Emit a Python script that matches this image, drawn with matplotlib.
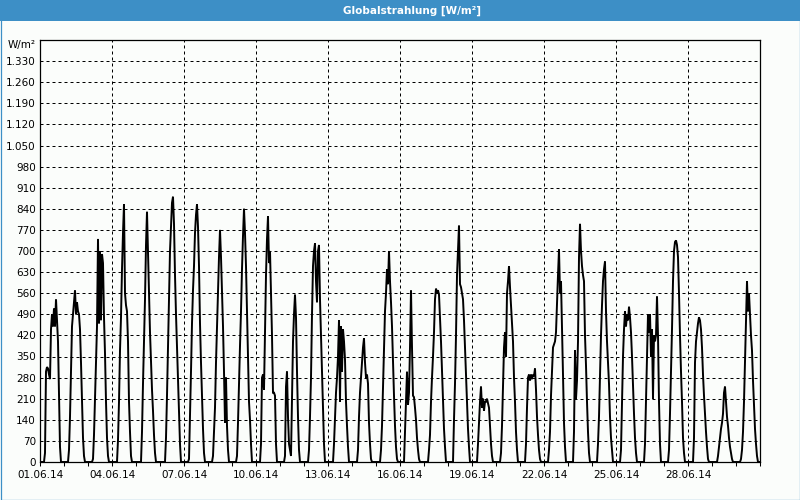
import numpy as np
import matplotlib
matplotlib.use("Agg")
import matplotlib.pyplot as plt
from matplotlib.patches import Rectangle
from matplotlib.ticker import FixedLocator, FuncFormatter, MultipleLocator

# hourly global radiation (W/m²) for hours 04..22, one row per day of June 2014
hours = list(range(4, 23))
radiation = [
    [0, 30, 300, 315, 310, 290, 275, 440, 490, 450, 510, 450, 540, 470, 400, 230, 50, 0, 0],
    [0, 40, 150, 300, 450, 490, 530, 570, 490, 530, 500, 490, 440, 330, 200, 80, 20, 0, 0],
    [0, 10, 90, 210, 330, 450, 740, 460, 700, 470, 690, 660, 480, 360, 200, 80, 20, 0, 0],
    [0, 0, 73, 200, 370, 480, 640, 760, 855, 560, 520, 500, 400, 200, 100, 20, 0, 0, 0],
    [0, 0, 100, 260, 400, 540, 720, 830, 700, 560, 430, 330, 240, 170, 90, 30, 0, 0, 0],
    [0, 0, 80, 220, 380, 540, 700, 780, 860, 880, 790, 620, 490, 380, 280, 160, 60, 0, 0],
    [0, 10, 150, 300, 460, 570, 650, 760, 820, 855, 780, 650, 460, 330, 220, 110, 30, 0, 0],
    [0, 20, 100, 180, 330, 450, 580, 680, 770, 680, 560, 450, 300, 130, 280, 120, 40, 0, 0],
    [0, 20, 130, 260, 385, 500, 640, 750, 840, 760, 650, 500, 350, 200, 140, 60, 0, 0, 0],
    [0, 60, 280, 290, 240, 420, 620, 740, 815, 660, 700, 560, 420, 230, 230, 220, 60, 0, 0],
    [0, 20, 250, 300, 150, 60, 40, 20, 200, 400, 490, 555, 480, 300, 150, 40, 0, 0, 0],
    [0, 40, 150, 280, 490, 650, 700, 725, 600, 530, 700, 720, 540, 420, 300, 170, 60, 0, 0],
    [0, 0, 60, 150, 230, 280, 350, 470, 200, 450, 300, 440, 400, 340, 200, 120, 50, 0, 0],
    [0, 0, 40, 150, 230, 280, 330, 380, 410, 330, 280, 290, 260, 130, 60, 10, 0, 0, 0],
    [0, 40, 120, 250, 380, 500, 560, 640, 590, 700, 600, 530, 450, 330, 220, 120, 50, 10, 0],
    [0, 100, 200, 300, 190, 230, 380, 570, 380, 220, 215, 180, 140, 80, 40, 10, 0, 0, 0],
    [0, 40, 90, 200, 280, 350, 430, 540, 575, 560, 570, 555, 480, 400, 300, 190, 110, 50, 0],
    [0, 0, 140, 260, 420, 620, 700, 785, 590, 580, 560, 540, 470, 380, 290, 190, 110, 50, 0],
    [0, 0, 60, 130, 200, 250, 180, 210, 170, 200, 200, 210, 195, 180, 120, 60, 20, 0, 0],
    [0, 30, 120, 250, 380, 430, 350, 560, 600, 650, 580, 520, 460, 400, 280, 200, 100, 40, 0],
    [0, 0, 60, 180, 280, 290, 270, 290, 275, 290, 285, 310, 240, 150, 90, 40, 10, 0, 0],
    [0, 40, 100, 220, 300, 380, 390, 400, 430, 530, 620, 705, 560, 600, 450, 290, 130, 50, 0],
    [0, 0, 100, 370, 210, 270, 400, 680, 790, 700, 650, 620, 600, 420, 320, 200, 100, 30, 0],
    [0, 0, 60, 150, 280, 420, 520, 600, 640, 665, 500, 400, 330, 260, 150, 80, 40, 0, 0],
    [0, 40, 200, 350, 440, 500, 450, 490, 470, 515, 480, 430, 350, 250, 160, 80, 30, 0, 0],
    [0, 60, 200, 350, 490, 430, 490, 350, 440, 210, 420, 400, 420, 550, 420, 200, 60, 0, 0],
    [0, 40, 160, 300, 440, 600, 700, 730, 735, 720, 680, 560, 420, 300, 200, 80, 30, 0, 0],
    [0, 0, 80, 330, 400, 430, 460, 480, 470, 440, 380, 290, 220, 160, 100, 50, 10, 0, 0],
    [0, 0, 20, 50, 80, 110, 130, 160, 230, 250, 200, 150, 120, 80, 50, 30, 10, 0, 0],
    [0, 10, 40, 100, 200, 330, 450, 600, 500, 560, 490, 420, 370, 270, 190, 110, 60, 20, 0],
]
date_labels = ["01.06.14", "04.06.14", "07.06.14", "10.06.14", "13.06.14",
               "16.06.14", "19.06.14", "22.06.14", "25.06.14", "28.06.14"]

# build the continuous hourly series (night hours are 0)
xs, ys = [], []
for d, row in enumerate(radiation):
    day = np.zeros(24)
    day[hours[0]:hours[0] + len(row)] = row
    xs.extend(d + np.arange(24) / 24.0)
    ys.extend(day)
xs.append(len(radiation))
ys.append(0)

bar_blue = "#3d8fc6"
fig = plt.figure(figsize=(8, 5), dpi=100, facecolor="#fbfdfb")

# window frame and title bar
fig.patches.append(Rectangle((0, 1 - 21 / 500), 1, 21 / 500, transform=fig.transFigure,
                             facecolor=bar_blue, edgecolor="none", zorder=0))
fig.patches.append(Rectangle((0.5 / 800, 0.5 / 500), 799 / 800, 499 / 500, transform=fig.transFigure,
                             facecolor="none", edgecolor=bar_blue, linewidth=0.9, zorder=1))
fig.text(412 / 800, 1 - 10.5 / 500, "Globalstrahlung [W/m²]", color="white", fontsize=7.5,
         fontweight="bold", ha="center", va="center")

ax = fig.add_axes([40 / 800, 38 / 500, 720 / 800, 422 / 500])
ax.set_facecolor("#fbfdfb")
ax.plot(xs, ys, color="black", linewidth=1.4, solid_joinstyle="miter")

ax.set_xlim(0, 30)
ax.set_ylim(0, 1400)

ax.xaxis.set_major_locator(FixedLocator(range(0, 30, 3)))
ax.set_xticklabels(date_labels)
ax.xaxis.set_minor_locator(MultipleLocator(1))
ax.yaxis.set_major_locator(FixedLocator(range(0, 1331, 70)))
ax.yaxis.set_major_formatter(FuncFormatter(lambda v, p: f"{v:,.0f}".replace(",", ".")))

ax.tick_params(axis="x", which="both", direction="out", length=3, width=0.75,
               labelsize=7.5, pad=3)
ax.tick_params(axis="y", length=0, labelsize=7.5, pad=3)

ax.grid(True, which="major", color="black", linestyle=(0, (3, 3)), linewidth=0.72)
for s in ax.spines.values():
    s.set_linewidth(0.9)
    s.set_color("black")

fig.text(36 / 800, 1 - 45 / 500, "W/m²", fontsize=7.5, ha="right", va="center")

fig.savefig("out.png", dpi=100, facecolor=fig.get_facecolor())
